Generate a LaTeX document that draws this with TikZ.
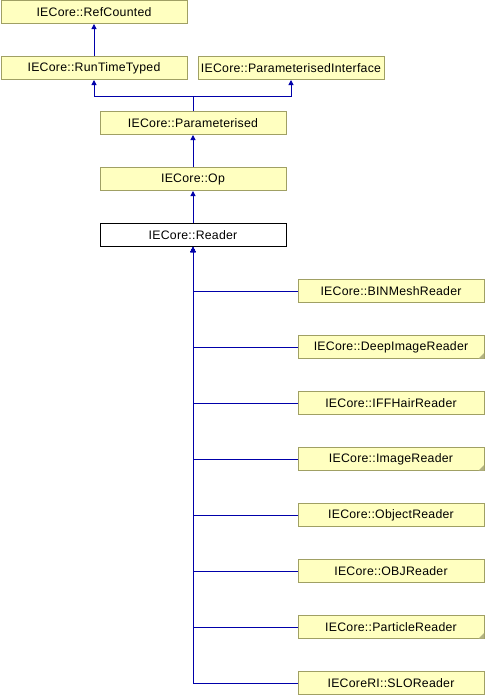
\documentclass[tikz,border=0pt]{standalone}
\usepackage{fontspec}
\setsansfont{Liberation Sans}[LetterSpace=2]
\usetikzlibrary{arrows.meta}
\definecolor{classfill}{HTML}{FFFFC0}
\definecolor{classline}{RGB}{160,160,100}
\definecolor{edgeblue}{RGB}{0,0,170}
\tikzset{
  cls/.style     = {rectangle, draw=classline, fill=classfill, line width=1pt,
                    minimum width=186pt, minimum height=23pt, inner sep=0pt,
                    align=center, font=\sffamily\fontsize{12.3}{14}\selectfont},
  current/.style = {cls, draw=black, fill=white},
  fold/.style    = {fill=classline!80},
  flow/.style    = {-{Triangle[length=5pt, width=5pt]}, draw=edgeblue, line width=1pt},
}

\begin{document}
\begin{tikzpicture}[x=1pt, y=-1pt]
      \useasboundingbox (0,0) rectangle (485,696);

      \node[cls]     (refcounted) at (94, 12)  {IECore::RefCounted};
      \node[cls]     (runtime)    at (94, 68)  {IECore::RunTimeTyped};
      \node[cls]     (paraiface)  at (291, 68) {IECore::ParameterisedInterface};
      \node[cls]     (param)      at (193, 123) {IECore::Parameterised};
      \node[cls]     (op)         at (193, 179) {IECore::Op};
      \node[current] (reader)     at (193, 235) {IECore::Reader};

      \node[cls] (binmesh)   at (391, 291) {IECore::BINMeshReader};
      \node[cls] (deepimage) at (391, 347) {IECore::DeepImageReader};
      \node[cls] (iffhair)   at (391, 403) {IECore::IFFHairReader};
      \node[cls] (image)     at (391, 459) {IECore::ImageReader};
      \node[cls] (object)    at (391, 515) {IECore::ObjectReader};
      \node[cls] (obj)       at (391, 571) {IECore::OBJReader};
      \node[cls] (particle)  at (391, 627) {IECore::ParticleReader};
      \node[cls] (slo)       at (391, 683) {IECoreRI::SLOReader};

      % folded corners
      \fill[fold] ([xshift=-6pt, yshift=0.5pt]deepimage.south east) -- ++(5.5,0) -- ++(0,-5.5) -- cycle;
      \fill[fold] ([xshift=-6pt, yshift=0.5pt]image.south east) -- ++(5.5,0) -- ++(0,-5.5) -- cycle;
      \fill[fold] ([xshift=-6pt, yshift=0.5pt]particle.south east) -- ++(5.5,0) -- ++(0,-5.5) -- cycle;

      \coordinate (split) at (193, 96);

      \draw[flow] (runtime) -- (refcounted);
      \draw[flow] (param.north) -- (split) -| (runtime.south);
      \draw[flow] (param.north) -- (split) -| (paraiface.south);
      \draw[flow] (op) -- (param);
      \draw[flow] (reader) -- (op);

      \draw[flow] (binmesh.west)   -| (reader.south);
      \draw[flow] (deepimage.west) -| (reader.south);
      \draw[flow] (iffhair.west)   -| (reader.south);
      \draw[flow] (image.west)     -| (reader.south);
      \draw[flow] (object.west)    -| (reader.south);
      \draw[flow] (obj.west)       -| (reader.south);
      \draw[flow] (particle.west)  -| (reader.south);
      \draw[flow] (slo.west)       -| (reader.south);
    \end{tikzpicture}
\end{document}
